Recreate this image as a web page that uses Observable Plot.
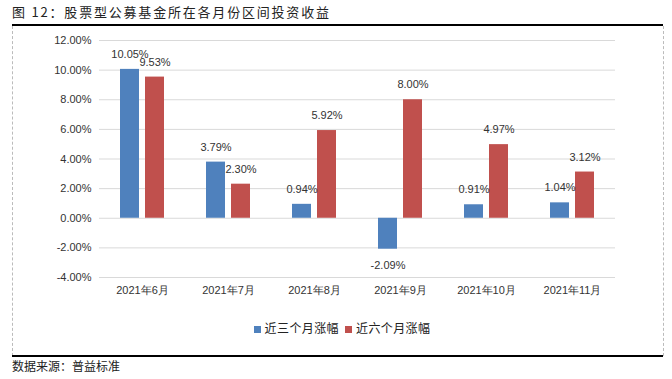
<!DOCTYPE html>
<html><head><meta charset="utf-8">
<script src="https://cdn.jsdelivr.net/npm/d3@7"></script>
<script src="https://cdn.jsdelivr.net/npm/@observablehq/plot@0.6"></script>
<style>
body{margin:0;background:#fff;width:672px;height:379px;position:relative;overflow:hidden;font-family:"Liberation Sans",Arial,sans-serif;}
#title{position:absolute;left:12px;top:3px;font-family:"Noto Sans CJK SC";font-size:13px;letter-spacing:1.8px;color:#222;white-space:nowrap;line-height:18px;}
.hline{position:absolute;left:12px;width:651px;height:2px;background:#000;}
.vdash{position:absolute;top:26px;height:330px;border-left:1px dashed #bbb;}
#chart{position:absolute;left:0;top:28px;}
#legend{position:absolute;top:320px;left:0;width:672px;text-align:center;font-family:"Noto Sans CJK SC";font-size:12px;color:#222;line-height:16px;padding-left:12px;box-sizing:border-box;}
#legend span.item{display:inline-block;margin:0 3px;letter-spacing:0.4px;}
#legend span.sw{display:inline-block;width:7px;height:7px;margin-right:4px;vertical-align:0px;}
#source{position:absolute;left:12px;top:358px;font-family:"Noto Sans CJK SC";font-size:12px;color:#222;line-height:16px;}
</style>
</head><body>
<div id="title">图 12：股票型公募基金所在各月份区间投资收益</div>
<div class="hline" style="top:24px"></div>
<div class="vdash" style="left:12px"></div>
<div class="vdash" style="left:663px"></div>
<div id="chart"></div>
<div id="legend"></div>
<div class="hline" style="top:355px"></div>
<div id="source">数据来源：普益标准</div>
<script>
const months = ["2021年6月","2021年7月","2021年8月","2021年9月","2021年10月","2021年11月"];
const series = ["近三个月涨幅","近六个月涨幅"];
const threeMonth = [10.05,3.79,0.94,-2.09,0.91,1.04];
const sixMonth = [9.53,2.30,5.92,8.00,4.97,3.12];
const yTicks = [-4,-2,0,2,4,6,8,10,12];
const colors = ["#4F81BD","#C0504D"];

const data = months.flatMap((m,i)=>[
  {month:m,series:series[0],value:threeMonth[i]},
  {month:m,series:series[1],value:sixMonth[i]}
]);
const fmt = v => v.toFixed(2)+"%";

const chart = Plot.plot({
  width:672,height:282,marginTop:12,marginBottom:33,marginLeft:98,marginRight:57,
  style:{fontFamily:"Liberation Sans, Arial, sans-serif",fontSize:"11px",color:"#333",background:"transparent"},
  fx:{domain:months,padding:0,label:null,tickSize:0,tickPadding:9,axis:"bottom"},
  x:{domain:series,axis:null,paddingInner:0.24,paddingOuter:0.84},
  y:{domain:[-4,12],ticks:yTicks,tickFormat:fmt,label:null,tickSize:0,tickPadding:8},
  color:{domain:series,range:colors},
  marks:[
    Plot.ruleY(yTicks,{stroke:"#d9d9d9",strokeWidth:1}),
    Plot.barY(data,{fx:"month",x:"series",y:"value",fill:"series"}),
    Plot.text(data.filter(d=>d.value>=0),{fx:"month",x:"series",y:"value",text:d=>fmt(d.value),dy:-15,fill:"#333"}),
    Plot.text(data.filter(d=>d.value<0),{fx:"month",x:"series",y:"value",text:d=>fmt(d.value),dy:16,fill:"#333"})
  ]
});
document.getElementById("chart").appendChild(chart);

const legend = document.getElementById("legend");
series.forEach((s,i)=>{
  const item = document.createElement("span");
  item.className="item";
  const sw = document.createElement("span");
  sw.className="sw";
  sw.style.background = colors[i];
  item.appendChild(sw);
  item.appendChild(document.createTextNode(s));
  legend.appendChild(item);
});
</script>
</body></html>
